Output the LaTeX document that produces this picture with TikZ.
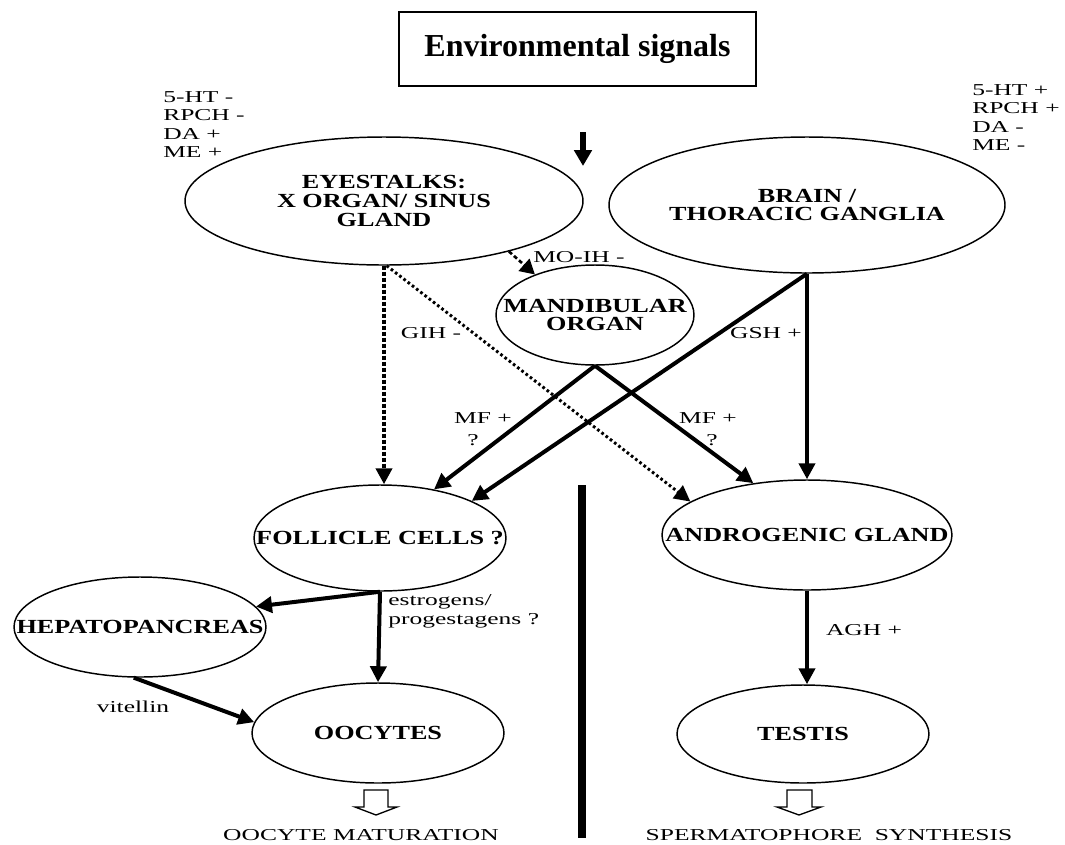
\documentclass[tikz,border=0pt]{standalone}
\usepackage{fontspec}
\setmainfont{Liberation Serif}
\usepackage{graphicx}
\usetikzlibrary{arrows.meta,shapes.geometric}
\newcommand\rl[1]{\scalebox{1.53}[1]{#1}}
\newcommand\bl[1]{\makebox[0pt]{\scalebox{1.31}[1]{#1}}}
\begin{document}
\begin{tikzpicture}[x=0.75pt,y=-0.75pt,
  ell/.style={draw, ellipse, line width=1.1pt, inner sep=0pt, align=center,
    font=\fontsize{15pt}{14pt}\selectfont\bfseries},
  lab/.style={inner sep=0pt, align=left, font=\fontsize{12.5pt}{13.7pt}\selectfont},
  thk/.style={line width=3pt, -{Triangle[length=12pt,width=12pt]}},
  dotarr/.style={line width=3pt, dash pattern=on 3pt off 1.5pt, -{Triangle[length=12pt,width=12pt]}},
  dotarrb/.style={line width=2.2pt, dash pattern=on 2pt off 2pt, -{Triangle[length=12pt,width=12pt]}},
  dmo/.style={line width=2pt, dash pattern=on 3pt off 2pt, -{Triangle[length=11pt,width=12pt]}},
  hollow/.style={line width=1pt},
]
\useasboundingbox (0,0) rectangle (1065,844);
\fill[white] (0,0) rectangle (1065,844);

% title
\node[draw, line width=1.5pt, minimum width=267.75pt, minimum height=55.5pt, inner sep=0pt,
  font=\fontsize{24pt}{28pt}\selectfont\bfseries] (env) at (577.5,49) {\raisebox{3pt}{Environmental signals}};

% side labels
\node[lab, anchor=north west] (lsig) at (163,91.5) {\rl{5-HT -}\\\rl{RPCH -}\\\rl{DA +}\\\rl{ME +}};
\node[lab, anchor=north west] (rsig) at (972,84.5) {\rl{5-HT +}\\\rl{RPCH +}\\\rl{DA -}\\\rl{ME -}};

% ellipses
\node[ell, minimum width=298.5pt, minimum height=96pt] (eye) at (384,201)
  {\bl{EYESTALKS:}\\\bl{X ORGAN/ SINUS}\\\bl{GLAND}};
\node[ell, minimum width=297pt, minimum height=102pt] (brain) at (807,205)
  {\bl{BRAIN /}\\\bl{THORACIC GANGLIA}};
\node[ell, minimum width=148.5pt, minimum height=75pt] (mand) at (595,315)
  {\bl{MANDIBULAR}\\\bl{ORGAN}};
\node[ell, minimum width=189pt, minimum height=79.5pt] (foll) at (380,538) {\bl{FOLLICLE CELLS ?}};
\node[ell, minimum width=217.5pt, minimum height=82.5pt] (andro) at (807,535) {\bl{ANDROGENIC GLAND}};
\node[ell, minimum width=189pt, minimum height=75pt] (hep) at (140,627) {\bl{HEPATOPANCREAS}};
\node[ell, minimum width=189pt, minimum height=75pt] (oocy) at (378,733) {\bl{OOCYTES}};
\node[ell, minimum width=189pt, minimum height=73.5pt] (testis) at (803,734) {\bl{TESTIS}};

% environmental arrow
\coordinate (envA) at (583,132);
\coordinate (envB) at (583,166);
\draw[line width=4.5pt, -{Triangle[length=12pt,width=13pt]}] (envA) -- (envB);

% connectors
\draw[dotarr] (eye.south) -- (eye.south |- foll.north);
\draw[dotarrb] ([xshift=2pt]eye.south) -- (andro.164);
\draw[dmo] (eye.-22) -- (mand.146);
\draw[thk] (mand.south) -- (foll.42);
\draw[thk] (mand.south) -- (andro.136);
\draw[thk] (brain.south) -- (foll.22);
\draw[thk] (brain.south) -- (andro.north);
\draw[thk] (andro.south) -- (andro.south |- testis.north);
\draw[thk] (foll.south) -- (oocy.north);
\draw[thk] (foll.south) -- (hep.10);
\draw[thk] (hep.-97) -- (oocy.175);

% connector labels
\node[lab] (gih) at (431,333) {\rl{GIH -}};
\node[lab] (moih) at (579,257) {\rl{MO-IH -}};
\node[lab] (gsh) at (766,333) {\rl{GSH +}};
\node[lab] (mfl) at (483,418) {\rl{MF +}};
\node[lab] (mflq) at (473,440) {\rl{?}};
\node[lab] (mfr) at (708,418) {\rl{MF +}};
\node[lab] (mfrq) at (712,440) {\rl{?}};
\node[lab] (agh) at (864,630) {\rl{AGH +}};
\node[lab, anchor=north west] (estr) at (388,594.5) {\rl{estrogens/}\\\rl{progestagens ?}};
\node[lab] (vit) at (133,707) {\rl{vitellin}};

% divider
\draw[line width=6pt] (582,485) -- (582,838);

% outcome arrows and texts
\draw[hollow] (364,790) -- (388,790) -- (388,807) -- (397,807) -- (376,815) -- (355,807) -- (364,807) -- cycle;
\draw[hollow] (787,790) -- (812,790) -- (812,807) -- (821,807) -- (799,815) -- (777,807) -- (787,807) -- cycle;
\node[lab] (oomat) at (361,835) {\rl{OOCYTE MATURATION}};
\node[lab] (spsyn) at (829,835) {\rl{SPERMATOPHORE\ \ SYNTHESIS}};
\end{tikzpicture}
\end{document}
